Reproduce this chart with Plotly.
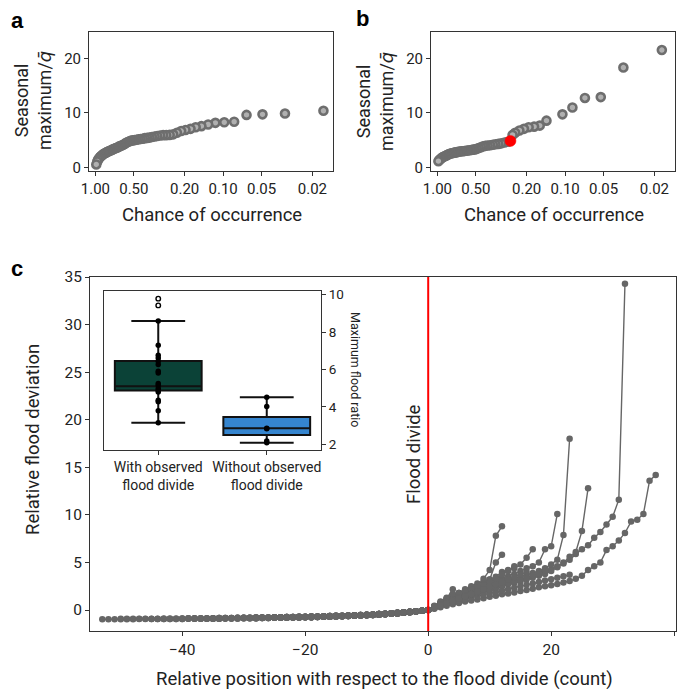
import plotly.graph_objects as go

W, H = 681, 691

# ---------------- data: panel a ----------------
a_chance = [0.0164, 0.0328, 0.0492, 0.0656, 0.082, 0.098, 0.115, 0.131, 0.148, 0.164,
            0.18, 0.197, 0.213, 0.23, 0.246, 0.262, 0.279, 0.295, 0.311, 0.328,
            0.344, 0.361, 0.377, 0.393, 0.41, 0.426, 0.443, 0.459, 0.475, 0.492,
            0.508, 0.525, 0.541, 0.557, 0.574, 0.59, 0.607, 0.623, 0.639, 0.656,
            0.672, 0.689, 0.705, 0.721, 0.738, 0.754, 0.77, 0.787, 0.803, 0.82,
            0.836, 0.852, 0.869, 0.885, 0.902, 0.918, 0.934, 0.951, 0.967, 0.984]
a_value = [10.4, 9.9, 9.75, 9.65, 8.4, 8.3, 8.2, 7.9, 7.6, 7.4,
           7.1, 6.9, 6.7, 6.4, 6.1, 6.0, 5.95, 5.95, 5.9, 5.8,
           5.7, 5.6, 5.5, 5.45, 5.4, 5.3, 5.25, 5.2, 5.1, 5.05,
           5.0, 4.95, 4.85, 4.7, 4.55, 4.35, 4.2, 4.05, 3.95, 3.85,
           3.7, 3.6, 3.5, 3.4, 3.3, 3.2, 3.1, 3.0, 2.9, 2.8,
           2.7, 2.6, 2.45, 2.3, 2.15, 1.95, 1.75, 1.5, 1.15, 0.6]

# ---------------- data: panel b ----------------
b_chance = [0.0175, 0.035, 0.0526, 0.070, 0.0877, 0.105, 0.140, 0.158, 0.175, 0.193,
            0.21, 0.228, 0.246, 0.258,
            0.281, 0.298, 0.316, 0.333, 0.351, 0.368, 0.386, 0.404, 0.421, 0.439,
            0.456, 0.474, 0.491, 0.509, 0.526, 0.544, 0.561, 0.579, 0.596, 0.614,
            0.632, 0.649, 0.667, 0.684, 0.702, 0.719, 0.737, 0.754, 0.772, 0.789,
            0.807, 0.825, 0.842, 0.86, 0.877, 0.895, 0.912, 0.93, 0.947, 0.965, 0.982]
b_value = [21.5, 18.3, 12.9, 12.75, 11.0, 9.75, 8.6, 7.7, 7.5, 7.4,
           7.1, 6.8, 6.4, 6.0,
           4.75, 4.6, 4.45, 4.35, 4.3, 4.2, 4.1, 4.05, 4.0, 3.9,
           3.75, 3.6, 3.45, 3.35, 3.3, 3.25, 3.2, 3.15, 3.1, 3.05,
           3.0, 3.0, 2.95, 2.9, 2.85, 2.8, 2.75, 2.7, 2.65, 2.6,
           2.5, 2.4, 2.3, 2.2, 2.1, 2.0, 1.9, 1.75, 1.6, 1.4, 1.2]
b_divide_chance = [0.268]
b_divide_value = [4.9]

# ---------------- data: panel c ----------------
# relative flood deviation left of the divide (positions -53 .. -1)
left_upper = [-0.93, -0.93, -0.92, -0.92, -0.92, -0.91, -0.91, -0.91, -0.90, -0.90,
              -0.89, -0.89, -0.88, -0.88, -0.87, -0.87, -0.86, -0.86, -0.85, -0.84,
              -0.84, -0.83, -0.82, -0.81, -0.80, -0.79, -0.78, -0.77, -0.76, -0.75,
              -0.74, -0.73, -0.71, -0.70, -0.68, -0.67, -0.65, -0.63, -0.61, -0.59,
              -0.57, -0.54, -0.52, -0.49, -0.46, -0.42, -0.38, -0.34, -0.29, -0.24,
              -0.18, -0.12, -0.06]
left_lower = [-0.97, -0.97, -0.96, -0.96, -0.96, -0.96, -0.95, -0.95, -0.95, -0.94,
              -0.94, -0.94, -0.93, -0.93, -0.92, -0.92, -0.91, -0.91, -0.90, -0.90,
              -0.89, -0.88, -0.88, -0.87, -0.86, -0.85, -0.84, -0.83, -0.82, -0.81,
              -0.80, -0.79, -0.78, -0.76, -0.75, -0.73, -0.71, -0.69, -0.67, -0.65,
              -0.63, -0.60, -0.58, -0.55, -0.52, -0.48, -0.44, -0.40, -0.35, -0.29,
              -0.22, -0.15, -0.08]

# each river: (points left of divide, which left profile, values at +1, +2, ...)
river_left = [40, 53, 35, 45, 30, 20, 25, 28, 10, 15, 12, 50, 38, 8, 22]
river_profile = ["u", "l", "u", "l", "u", "l", "u", "l", "u", "l", "u", "u", "l", "u", "l"]
river_right = [
    [0.3, 0.55, 0.8, 1.0, 1.2, 1.4, 1.6, 1.8, 2.0, 2.2, 2.4, 2.6, 2.8, 3.0, 3.2, 3.4,
     3.6, 3.8, 4.0, 4.3, 4.6, 4.9, 5.3, 5.9, 6.4, 6.8, 7.6, 8.2, 9.0, 9.8, 11.6, 34.3],
    [0.15, 0.3, 0.45, 0.6, 0.75, 0.9, 1.0, 1.1, 1.25, 1.4, 1.5, 1.65, 1.75, 1.85, 2.0,
     2.1, 2.25, 2.4, 2.5, 2.6, 2.75, 2.9, 3.05, 3.3, 3.6, 4.2, 4.6, 5.0, 6.3, 6.7, 7.3,
     8.1, 9.3, 9.5, 10.1, 13.6, 14.2],
    [0.3, 0.6, 0.85, 1.1, 1.35, 1.6, 1.85, 2.1, 2.3, 2.5, 2.7, 2.9, 3.1, 3.3, 3.5, 3.7,
     3.9, 4.1, 4.4, 4.8, 5.3, 7.9, 18.0],
    [0.25, 0.5, 0.7, 0.9, 1.1, 1.3, 1.5, 1.7, 1.9, 2.1, 2.3, 2.5, 2.7, 2.85, 3.0, 3.2,
     3.4, 3.6, 3.8, 4.1, 4.5, 5.0, 5.6, 6.1, 8.3, 12.8],
    [0.35, 0.7, 1.0, 1.3, 1.55, 1.8, 2.05, 2.3, 2.55, 2.8, 3.05, 3.3, 3.55, 3.8, 4.1,
     4.4, 4.6, 5.0, 6.4, 6.7, 10.1],
    [0.4, 0.8, 1.2, 1.5, 1.8, 1.9, 2.2, 2.5, 3.3, 4.2, 7.8, 8.8],
    [0.35, 0.65, 0.95, 1.2, 1.45, 1.7, 2.0, 2.4, 2.8, 3.2, 5.0, 5.8],
    [0.4, 0.75, 1.1, 1.5, 1.8, 2.2, 2.5, 2.8, 3.0, 3.2, 3.5, 4.0, 4.2, 4.4, 4.8, 5.5, 6.4],
    [0.3, 0.55, 1.2, 2.2],
    [0.3, 0.6, 0.9, 1.2, 1.5, 1.8, 2.1, 2.4, 2.7, 3.0, 3.3, 3.7, 4.1, 4.6],
    [0.45, 0.9, 1.3, 1.7, 1.8, 2.0, 2.2, 2.4, 2.6, 2.9],
    [0.2, 0.4, 0.6, 0.8, 1.0, 1.15, 1.3, 1.45, 1.6, 1.75, 1.9, 2.05, 2.2, 2.35, 2.5,
     2.65, 2.8, 2.95, 3.1, 3.25, 3.4, 3.55, 3.7],
    [0.25, 0.5, 0.75, 1.0, 1.2, 1.4, 1.6, 1.8, 2.0, 2.2, 2.4, 2.6, 2.8, 3.0, 3.2, 3.4,
     3.6, 3.9, 4.2],
    [0.3, 0.6, 0.85, 1.1, 1.3, 1.5, 1.7, 1.9],
    [0.2, 0.45, 0.7, 0.95, 1.2, 1.45, 1.7, 1.95, 2.2, 2.45, 2.7, 2.95, 3.2, 3.45, 3.7, 4.0],
]

# ---------------- data: inset box plot ----------------
box_labels = ["With observed<br>flood divide", "Without observed<br>flood divide"]
box_q1 = [4.88, 2.5]
box_median = [5.11, 2.86]
box_q3 = [6.46, 3.46]
box_low = [3.16, 2.09]
box_high = [8.6, 4.52]
with_points = [8.6, 7.3, 6.76, 6.62, 6.44, 6.27, 5.91, 5.82, 5.25, 5.16, 4.99, 4.88,
               4.8, 4.36, 4.28, 3.8, 3.16]
with_outliers = [9.79, 9.43]
without_points = [4.52, 4.03, 2.86, 2.83, 2.18, 2.09]

# ---------------- layout helpers ----------------
def fx(px):
    return px / W


def fy(py):
    return 1 - py / H


FONT = "Roboto, 'Liberation Sans', sans-serif"
TXT = "#222222"
AX = "#333333"
GRAY = "#666666"

fig = go.Figure()

# panel a
fig.add_trace(go.Scatter(
    x=a_chance, y=a_value, mode="markers", xaxis="x", yaxis="y",
    marker=dict(size=8, color="#b0b0b0", line=dict(color="#6e6e6e", width=2.6)),
    showlegend=False, hoverinfo="skip"))

# panel b
fig.add_trace(go.Scatter(
    x=b_chance, y=b_value, mode="markers", xaxis="x2", yaxis="y2",
    marker=dict(size=8, color="#b0b0b0", line=dict(color="#6e6e6e", width=2.6)),
    showlegend=False, hoverinfo="skip"))
fig.add_trace(go.Scatter(
    x=b_divide_chance, y=b_divide_value, mode="markers", xaxis="x2", yaxis="y2",
    marker=dict(size=11, color="#ff0000", line=dict(color="#ff0000", width=0.5)),
    showlegend=False, hoverinfo="skip"))

# panel c rivers
for nl, prof, right in zip(river_left, river_profile, river_right):
    left = left_upper if prof == "u" else left_lower
    xs = list(range(-nl, len(right) + 1))
    ys = left[len(left) - nl:] + [0.0] + right
    fig.add_trace(go.Scatter(
        x=xs, y=ys, mode="lines+markers", xaxis="x3", yaxis="y3",
        line=dict(color=GRAY, width=1.4),
        marker=dict(size=6.5, color=GRAY),
        showlegend=False, hoverinfo="skip"))

# inset boxes
box_fill = ["#0b4237", "#3585cf"]
for i in range(2):
    fig.add_trace(go.Box(
        x=[i], q1=[box_q1[i]], median=[box_median[i]], q3=[box_q3[i]],
        lowerfence=[box_low[i]], upperfence=[box_high[i]],
        xaxis="x4", yaxis="y4", fillcolor=box_fill[i],
        line=dict(color="#111111", width=2), width=0.8, whiskerwidth=0.62,
        boxpoints=False, showlegend=False, hoverinfo="skip"))
fig.add_trace(go.Scatter(
    x=[0] * len(with_points), y=with_points, mode="markers", xaxis="x4", yaxis="y4",
    marker=dict(size=5.5, color="#000000"), showlegend=False, hoverinfo="skip"))
fig.add_trace(go.Scatter(
    x=[1] * len(without_points), y=without_points, mode="markers", xaxis="x4", yaxis="y4",
    marker=dict(size=5.5, color="#000000"), showlegend=False, hoverinfo="skip"))
fig.add_trace(go.Scatter(
    x=[0] * len(with_outliers), y=with_outliers, mode="markers", xaxis="x4", yaxis="y4",
    marker=dict(size=4.5, color="#ffffff", line=dict(color="#000000", width=1.4)),
    showlegend=False, hoverinfo="skip"))

axis_common = dict(showline=True, linecolor=AX, linewidth=1, mirror=True, ticks="outside",
                   ticklen=4, tickcolor=AX, showgrid=False, zeroline=False, automargin=False,
                   tickfont=dict(family=FONT, size=15, color=TXT))

chance_ticks = [1, 0.5, 0.2, 0.1, 0.05, 0.02]
chance_text = ["1.00", "0.50", "0.20", "0.10", "0.05", "0.02"]

QBAR = "<span style=\"font-family:'DejaVu Sans'; font-style:italic\">q\u0304</span>"
ytitle_ab = "Seasonal<br>maximum/" + QBAR

fig.update_layout(
    width=W, height=H, margin=dict(l=0, r=0, t=0, b=0, pad=0, autoexpand=False),
    paper_bgcolor="white", plot_bgcolor="white",
    font=dict(family=FONT, color=TXT),
    xaxis=dict(axis_common, domain=[fx(89), fx(333)], anchor="y", type="log",
               range=[0.05, -1.86], tickvals=chance_ticks, ticktext=chance_text),
    yaxis=dict(axis_common, domain=[fy(171), fy(32)], anchor="x", range=[-0.6, 24.8],
               tickvals=[0, 10, 20]),
    xaxis2=dict(axis_common, domain=[fx(431), fx(675)], anchor="y2", type="log",
                range=[0.05, -1.86], tickvals=chance_ticks, ticktext=chance_text),
    yaxis2=dict(axis_common, domain=[fy(171), fy(32)], anchor="x2", range=[-0.6, 24.8],
                tickvals=[0, 10, 20]),
    xaxis3=dict(axis_common, domain=[fx(90), fx(676)], anchor="y3", range=[-55, 40.3],
                tickvals=[-40, -20, 0, 20, 40], ticktext=["\u221240", "\u221220", "0", "20", "40"],
                tickfont=dict(family=FONT, size=15.5, color=TXT)),
    yaxis3=dict(axis_common, domain=[fy(631), fy(277)], anchor="x3", range=[-2.2, 35],
                tickvals=[0, 5, 10, 15, 20, 25, 30, 35],
                tickfont=dict(family=FONT, size=15.5, color=TXT)),
    xaxis4=dict(axis_common, domain=[fx(104), fx(321)], anchor="y4", range=[-0.5, 1.5],
                tickvals=[0, 1], ticktext=box_labels, mirror=True,
                tickfont=dict(family=FONT, size=14, color=TXT)),
    yaxis4=dict(axis_common, domain=[fy(450), fy(291)], anchor="x4", range=[1.7, 10.2],
                side="right", tickvals=[2, 4, 6, 8, 10],
                tickfont=dict(family=FONT, size=13.5, color=TXT)),
    shapes=[dict(type="line", xref="x3", yref="y3 domain", x0=0, x1=0, y0=0, y1=1,
                 line=dict(color="#ff0000", width=2))],
    annotations=[
        dict(text="<b>a</b>", x=fx(17), y=fy(20), xref="paper", yref="paper",
             xanchor="center", yanchor="middle", showarrow=False,
             font=dict(family="Liberation Sans, Arial", size=22, color="#000")),
        dict(text="<b>b</b>", x=fx(362), y=fy(19), xref="paper", yref="paper",
             xanchor="center", yanchor="middle", showarrow=False,
             font=dict(family="Liberation Sans, Arial", size=22, color="#000")),
        dict(text="<b>c</b>", x=fx(17), y=fy(269), xref="paper", yref="paper",
             xanchor="center", yanchor="middle", showarrow=False,
             font=dict(family="Liberation Sans, Arial", size=22, color="#000")),
        dict(text=ytitle_ab, x=fx(33), y=fy(101), xref="paper",
             yref="paper", xanchor="center", yanchor="middle", showarrow=False, textangle=-90,
             font=dict(family=FONT, size=18, color=TXT)),
        dict(text=ytitle_ab, x=fx(375), y=fy(101), xref="paper",
             yref="paper", xanchor="center", yanchor="middle", showarrow=False, textangle=-90,
             font=dict(family=FONT, size=18, color=TXT)),
        dict(text="Chance of occurrence", x=fx(212), y=fy(215), xref="paper", yref="paper",
             xanchor="center", yanchor="middle", showarrow=False,
             font=dict(family=FONT, size=18.5, color=TXT)),
        dict(text="Chance of occurrence", x=fx(554), y=fy(215), xref="paper", yref="paper",
             xanchor="center", yanchor="middle", showarrow=False,
             font=dict(family=FONT, size=18.5, color=TXT)),
        dict(text="Relative position with respect to the flood divide (count)",
             x=fx(384), y=fy(679), xref="paper", yref="paper",
             xanchor="center", yanchor="middle", showarrow=False,
             font=dict(family=FONT, size=18.5, color=TXT)),
        dict(text="Relative flood deviation", x=fx(33), y=fy(440), xref="paper", yref="paper",
             xanchor="center", yanchor="middle", showarrow=False, textangle=-90,
             font=dict(family=FONT, size=18.5, color=TXT)),
        dict(text="Flood divide", x=-2.3, y=16.4, xref="x3", yref="y3", showarrow=False,
             xanchor="center", yanchor="middle", textangle=-90,
             font=dict(family=FONT, size=18.5, color=TXT)),
        dict(text="Maximum flood ratio", x=fx(356), y=fy(370), xref="paper", yref="paper",
             xanchor="center", yanchor="middle", showarrow=False, textangle=90,
             font=dict(family=FONT, size=12.5, color=TXT)),
    ],
)

fig.write_html("out.html", config={"displayModeBar": False},
               post_script="document.body.style.margin='0px';")
